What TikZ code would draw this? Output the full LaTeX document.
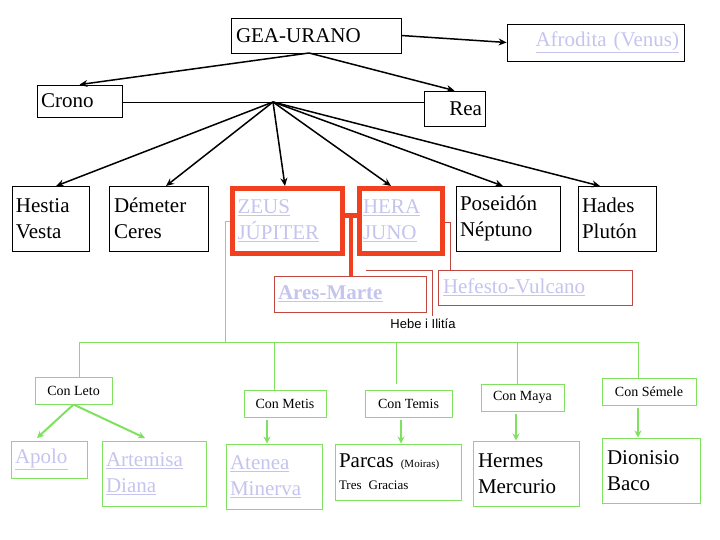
\documentclass[tikz,border=0pt]{standalone}
\usepackage{fontspec}
\setmainfont{Liberation Serif}
\newfontfamily\tms{Liberation Serif}
\setsansfont{Liberation Sans}
\usetikzlibrary{arrows.meta}
\definecolor{lnk}{HTML}{C4C4EE}
\definecolor{grn}{HTML}{80E060}
\definecolor{rd}{HTML}{F04020}
\definecolor{drd}{HTML}{C04840}
\newcommand\lk[1]{\underline{#1}}
\begin{document}
\begin{tikzpicture}[x=1pt,y=-1pt,
  bk/.style={draw=black,line width=0.8pt,inner sep=0pt,align=left,font=\tms\fontsize{21}{26}\selectfont},
  gb/.style={draw=grn,line width=1pt,inner sep=0pt,align=left,font=\tms\fontsize{21}{26}\selectfont},
  gs/.style={draw=grn,line width=1pt,inner sep=0pt,align=center,font=\tms\fontsize{14}{16}\selectfont},
  zb/.style={draw=rd,line width=5pt,inner sep=0pt,align=left,font=\tms\fontsize{21}{26}\selectfont},
  rb/.style={draw=drd,line width=0.8pt,inner sep=0pt,align=left,font=\tms\fontsize{21}{26}\selectfont},
  ln/.style={text=lnk},
  arr/.style={-{Stealth[length=8pt,width=7pt]},line width=1.5pt},
  garr/.style={-{Stealth[length=7pt,width=7pt]},line width=2pt,draw=grn},
  gl/.style={draw=grn,line width=1pt},
  rl/.style={draw=drd,line width=0.6pt}]
\useasboundingbox (0,0) rectangle (720,540);
\node[bk,minimum width=170,minimum height=35,text width=160] (gea) at (316,35.5) {GEA-URANO};
\node[bk,ln,minimum width=177,minimum height=37,text width=167,align=right] (afro) at (595.5,42.5) {\lk{Afrodita (Venus)}};
\node[bk,minimum width=85,minimum height=32,text width=77] (crono) at (79.5,101) {Crono};
\node[bk,minimum width=61,minimum height=35,text width=55,align=right] (rea) at (454.5,108.5) {Rea};
\node[bk,minimum width=77,minimum height=65,text width=69] (hestia) at (50.5,218.5) {Hestia\\Vesta};
\node[bk,minimum width=99,minimum height=65,text width=89] (demeter) at (158.5,218.5) {Démeter\\Ceres};
\node[zb,ln,minimum width=110,minimum height=65,text width=100] (zeus) at (287.5,221) {\lk{ZEUS}\\\lk{JÚPITER}};
\node[zb,ln,minimum width=83,minimum height=65,text width=76] (hera) at (401,221) {\lk{HERA}\\\lk{JUNO}};
\node[bk,minimum width=104,minimum height=65,text width=96] (poseidon) at (508,218.5) {Poseidón\\Néptuno};
\node[bk,minimum width=78,minimum height=65,text width=70] (hades) at (617,218.5) {Hades\\Plutón};
\node[rb,ln,minimum width=152,minimum height=36,text width=144] (ares) at (350,294) {\lk{\textbf{Ares-Marte}}};
\node[rb,ln,minimum width=194,minimum height=35,text width=184] (hefesto) at (535,287.5) {\lk{Hefesto-Vulcano}};
\node[font=\sffamily\fontsize{13}{15}\selectfont] (hebe) at (423,324) {Hebe i Ilitía};
\node[gs,minimum width=77,minimum height=27] (leto) at (73.5,390.5) {Con Leto};
\node[gs,minimum width=82,minimum height=27] (metis) at (285,403.5) {Con Metis};
\node[gs,minimum width=87,minimum height=27] (temis) at (408.5,403.5) {Con Temis};
\node[gs,minimum width=83,minimum height=27] (maya) at (522.5,397.5) {Con Maya};
\node[gs,minimum width=94,minimum height=27] (semele) at (649,391.5) {Con Sémele};
\node[gb,ln,minimum width=76,minimum height=37,text width=68] (apolo) at (49,459.5) {\lk{Apolo}};
\node[gb,ln,minimum width=104,minimum height=65,text width=96] (artemisa) at (154,473.5) {\lk{Artemisa}\\\lk{Diana}};
\node[gb,ln,minimum width=96,minimum height=65,text width=88] (atenea) at (274,476.5) {\lk{Atenea}\\\lk{Minerva}};
\node[gb,minimum width=126,minimum height=56,text width=118] (parcas) at (398,472) {Parcas {\fontsize{11}{12}\selectfont(Moiras)}\\[-4pt]{\fontsize{13}{15}\selectfont Tres Gracias}};
\node[gb,minimum width=106,minimum height=65,text width=96] (hermes) at (526,473.5) {Hermes\\Mercurio};
\node[gb,minimum width=98,minimum height=65,text width=88] (dionisio) at (651,470.5) {Dionisio\\Baco};
% top arrows
\coordinate (g0) at (309,53);
\coordinate (j) at (273,102);
\draw[arr] (gea.east) -- (afro.west);
\draw[arr] (g0) -- (crono.north);
\draw[arr] (g0) -- (rea.north);
\draw[line width=0.6pt] (crono.east |- j) -- (rea.west |- j);
\draw[arr] (j) -- (56,186);
\draw[arr] (j) -- (166,186);
\draw[arr] (j) -- (285,186);
\draw[arr] (j) -- (391,186);
\draw[arr] (j) -- (503,186);
\draw[arr] (j) -- (600,186);
% red T
\draw[rd,line width=5pt] (341,216) -- (359,216);
\draw[rd,line width=4pt] (351,216) -- (ares.north -| 351,0);
% thin red
\draw[rl] (445,222) -- (450,222) -- (hefesto.north -| 450,0);
\draw[rl] (366,270) -- (432,270) -- (hebe.north -| 432,0);
% green tree
\draw[gl] (230,222) -- (225,222) -- (225,342);
\draw[gl] (79,342) -- (638,342);
\draw[gl] (79,342) -- (leto.north -| 79,0);
\draw[gl] (274,342) -- (metis.north -| 274,0);
\draw[gl] (396,342) -- (396,384);
\draw[gl] (517,342) -- (maya.north -| 517,0);
\draw[gl] (638,342) -- (semele.north -| 638,0);
\draw[garr] (leto.south) -- (37,438);
\draw[garr] (leto.south) -- (145,438);
\draw[garr] (267,420) -- (atenea.north -| 267,0);
\draw[garr] (401,420) -- (parcas.north -| 401,0);
\draw[garr] (516,414) -- (hermes.north -| 516,0);
\draw[garr] (638,408) -- (dionisio.north -| 638,0);
\end{tikzpicture}
\end{document}
